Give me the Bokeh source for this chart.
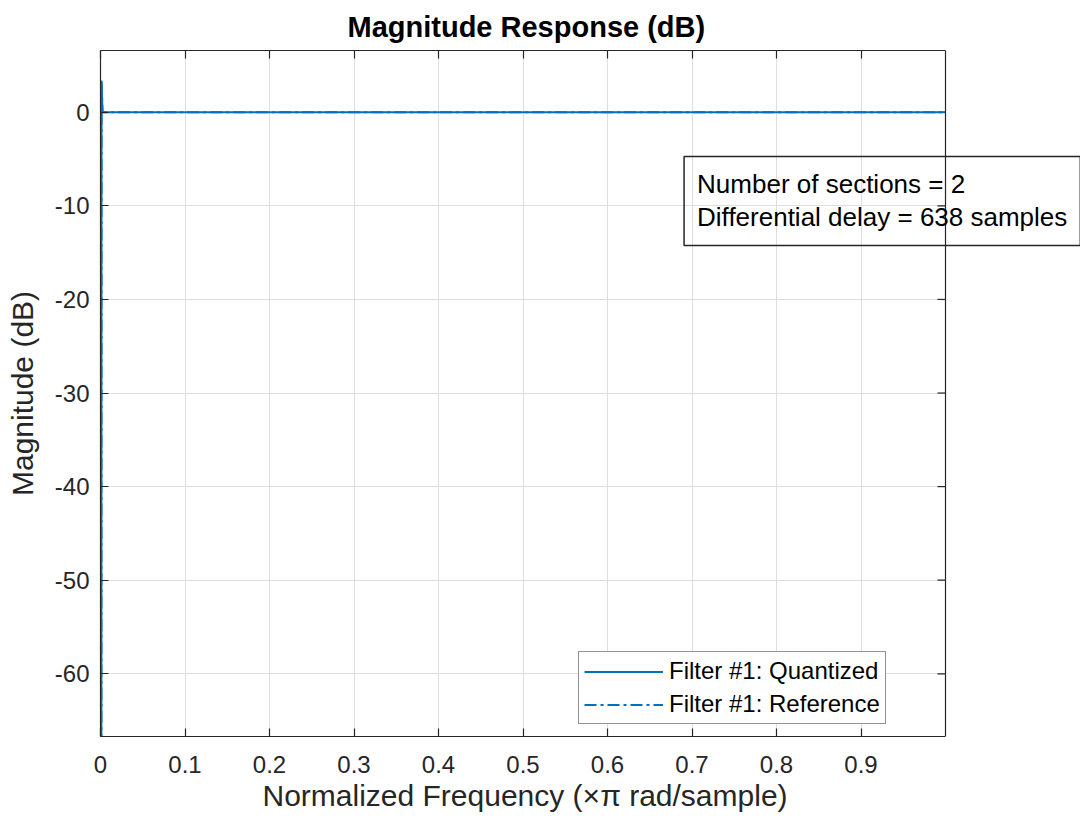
from bokeh.plotting import figure
from bokeh.models import (Range1d, FixedTicker, LinearAxis, Label, Legend, LegendItem,
                          Span, BoxAnnotation, Title)
from bokeh.embed import file_html
from bokeh.resources import INLINE

# ---- data ----
freq_quantized = [0.001, 0.0012, 0.0024, 0.25, 0.5, 0.75, 1.0]
mag_quantized = [-80.0, 3.4, 0.0, 0.0, 0.0, 0.0, 0.0]
freq_reference = [0.001, 0.0012, 0.0024, 0.25, 0.5, 0.75, 1.0]
mag_reference = [-80.0, 3.4, 0.0, 0.0, 0.0, 0.0, 0.0]

x_ticks = [0, 0.1, 0.2, 0.3, 0.4, 0.5, 0.6, 0.7, 0.8, 0.9]
x_tick_labels = ["0", "0.1", "0.2", "0.3", "0.4", "0.5", "0.6", "0.7", "0.8", "0.9"]
y_ticks = [-60, -50, -40, -30, -20, -10, 0]
y_tick_labels = ["-60", "-50", "-40", "-30", "-20", "-10", "0"]

legend_labels = ["Filter #1: Quantized", "Filter #1: Reference"]
info_lines = ["Number of sections = 2", "Differential delay = 638 samples"]
title_text = "Magnitude Response (dB)"
x_label = "Normalized Frequency (\u00d7\u03c0 rad/sample)"
y_label = "Magnitude (dB)"

FONT = "Liberation Sans"
AX = "#262626"
BLUE = "#0072BD"

# axes box: 845 px wide for x in [0, 1]; the frame is extended to the right
# edge of the canvas so that the text box may run past the axes box.
AXES_W = 845
FRAME_W = 980
X_END = FRAME_W / AXES_W

p = figure(frame_width=FRAME_W, frame_height=686,
           x_range=Range1d(0, X_END), y_range=Range1d(-66.7, 6.6),
           output_backend="svg", toolbar_location=None,
           min_border_left=100, min_border_right=0,
           min_border_top=50, min_border_bottom=86,
           background_fill_color="white", border_fill_color="white")
p.outline_line_color = None

p.title.text = title_text
p.title.align = "left"
p.title.offset = 247
p.title.text_font = FONT
p.title.text_font_size = "29px"
p.title.text_font_style = "bold"
p.title.text_color = "black"
p.title.standoff = 15

def style_axis(ax, ticks, labels, show_labels=True):
    ax.ticker = FixedTicker(ticks=ticks)
    ax.major_label_overrides = dict(zip(ticks, labels))
    ax.axis_line_color = AX
    ax.axis_line_width = 1.2
    ax.major_tick_line_color = AX
    ax.major_tick_line_width = 1.2
    ax.major_tick_in = 8
    ax.major_tick_out = 0
    ax.minor_tick_line_color = None
    ax.major_label_text_font = FONT
    ax.major_label_text_color = AX
    if show_labels:
        ax.major_label_text_font_size = "24px"
    else:
        ax.major_label_text_font_size = "0px"
        ax.major_label_standoff = 0

xa = p.xaxis[0]
style_axis(xa, x_ticks, x_tick_labels)
xa.bounds = (0, 1)
xa.major_label_standoff = 19

# x axis label, centred under the axes box
p.add_layout(Title(text=x_label, align="left", offset=162,
                   text_font=FONT, text_font_size="30px", text_font_style="normal",
                   text_color=AX, standoff=3), "below")

ya = p.yaxis[0]
style_axis(ya, y_ticks, y_tick_labels)
ya.major_label_standoff = 11
ya.axis_label = y_label
ya.axis_label_text_font = FONT
ya.axis_label_text_font_size = "30px"
ya.axis_label_text_font_style = "normal"
ya.axis_label_text_color = AX
ya.axis_label_standoff = 13

top_ax = LinearAxis()
style_axis(top_ax, x_ticks, [""] * len(x_ticks), show_labels=False)
top_ax.bounds = (0, 1)
p.add_layout(top_ax, "above")

p.xgrid.ticker = FixedTicker(ticks=x_ticks)
p.ygrid.ticker = FixedTicker(ticks=y_ticks)
p.grid.grid_line_color = "#dedede"
p.grid.grid_line_width = 1

# blank out the area right of the axes box (beneath data/annotations)
p.add_layout(BoxAnnotation(left=1, fill_color="white", fill_alpha=1,
                           line_color=None, level="underlay"))

# right edge of the axes box and its inward ticks
p.add_layout(Span(location=1, dimension="height", line_color=AX, line_width=1.2))
tick_len = 8 / AXES_W
p.segment(x0=[1] * len(y_ticks), y0=y_ticks,
          x1=[1 - tick_len] * len(y_ticks), y1=y_ticks,
          line_color=AX, line_width=1.2)

r1 = p.line(freq_quantized, mag_quantized, line_color=BLUE, line_width=2)
r2 = p.line(freq_reference, mag_reference, line_color=BLUE, line_width=2, line_dash="12 4 3 4")

legend = Legend(items=[LegendItem(label=legend_labels[0], renderers=[r1]),
                       LegendItem(label=legend_labels[1], renderers=[r2])],
                location=(478, 12))
legend.border_line_color = AX
legend.border_line_width = 1.2
legend.background_fill_color = "white"
legend.background_fill_alpha = 1
legend.label_text_font = FONT
legend.label_text_font_size = "24px"
legend.label_text_color = "black"
legend.glyph_width = 79
legend.glyph_height = 25
legend.label_height = 25
legend.label_standoff = 6
legend.spacing = 5
legend.padding = 5
legend.margin = 0
p.add_layout(legend)

info = Label(x=0.706 - 13 / AXES_W, y=-4.72, x_units="data", y_units="data",
             text="\n".join(info_lines),
             text_font=FONT, text_font_size="26px", text_color="black",
             text_align="left", text_baseline="top", text_line_height=1.1,
             border_line_color=AX, border_line_width=1.5,
             background_fill_color=None, padding=13)
p.add_layout(info)

open("out.html", "w").write(file_html(p, INLINE))
